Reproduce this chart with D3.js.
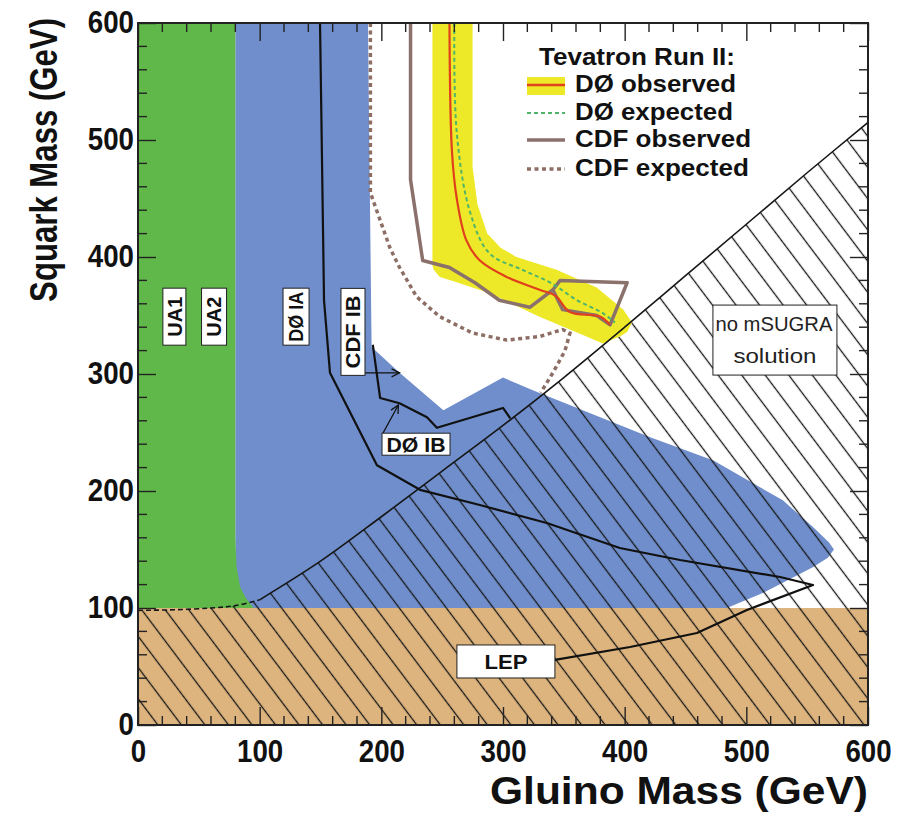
<!DOCTYPE html>
<html lang="en">
<head>
<meta charset="UTF-8">
<title>Squark vs gluino mass limits</title>
<script src="https://cdn.jsdelivr.net/npm/d3@7/dist/d3.min.js"></script>
<style>
    body { margin: 0; background: #fff; }
    text { font-family: "Liberation Sans", Arial, Helvetica, sans-serif; }
</style>
</head>
<body>
<script>

    var width = 903;
    var height = 823;

    // axis ticks
    var xTicks = [0, 100, 200, 300, 400, 500, 600];
    var yTicks = [0, 100, 200, 300, 400, 500, 600];

    // excluded regions, [gluino mass, squark mass] in GeV
    var uaRegion = [[0, 600], [80, 600], [80, 160], [81, 135], [84, 118], [89, 108], [95, 100], [0, 100]];
    var tevatronIRegion = [[80, 600], [189, 600], [192, 323], [215, 301], [251, 269], [300, 297], [325, 286],
        [421, 246], [473, 226], [530, 192], [555, 169], [568, 156], [572, 150], [567, 143], [555, 135],
        [514, 113], [484, 100], [80, 100]];
    var lepRegion = [[0, 0], [600, 0], [600, 100], [0, 100]];
    var noSugraEdge = [[0, 98], [30, 98.5], [60, 100], [80, 102], [100, 107], [150, 140], [200, 178],
        [250, 217], [300, 256], [350, 297], [400, 340], [450, 384], [500, 428], [550, 472], [600, 515]];

    // Run II contours
    var d0Band = [[242, 600], [275, 600], [275, 477], [279, 445], [287, 420], [298, 408], [311, 400],
        [344, 389], [377, 374], [399, 355], [406, 344], [402, 336], [396, 332], [382, 326], [371, 331],
        [330, 349], [289, 369], [260, 379], [248, 383], [243, 389], [242, 393]];
    var d0Observed = [[256, 600], [258, 491], [262, 450], [270, 414], [281, 397], [303, 383], [330, 372],
        [343, 367], [355, 353], [380, 349], [388, 342]];
    var d0Expected = [[260, 600], [262, 506], [273, 438], [289, 403], [316, 389], [339, 378], [361, 363],
        [382, 352], [392, 344]];
    var cdfObserved = [[224, 600], [224, 466], [234, 397], [256, 391], [277, 378], [297, 363], [322, 357],
        [341, 372], [349, 355], [377, 350], [388, 342], [402, 378], [347, 380], [341, 372]];
    var cdfExpected = [[191, 600], [191, 455], [207, 408], [215, 391], [229, 366], [248, 349], [275, 335],
        [303, 329], [330, 332], [349, 338], [355, 335], [351, 320], [341, 301], [331, 284]];

    // Run I contours
    var d0IALep = [[149.6, 600], [152.9, 363], [157.8, 301], [196.4, 222], [231.8, 201], [281, 188],
        [336, 172.6], [396, 151.3], [445.5, 141], [527.7, 126.5], [554.8, 119.7], [500.5, 98.3],
        [459.4, 78.6], [404.4, 66.7], [342.7, 55.6]];
    var d0IB = [[193, 325], [199, 279.5], [215, 275], [237.5, 263], [245.7, 254], [300, 271], [304, 265], [306, 262]];
    var cdfIBArrow = [[186.6, 301], [215, 301]];
    var d0IBArrow = [[201.4, 249.6], [214, 273.5]];

    var legendNames = ['DØ observed', 'DØ expected', 'CDF observed', 'CDF expected'];

    var svg = d3.select('body')
        .append('svg')
        .attr('width', width)
        .attr('height', height);

    var x = d3.scaleLinear().domain([0, 600]).range([138, 868]);
    var y = d3.scaleLinear().domain([0, 600]).range([725, 23]);

    var line = d3.line()
        .x(function (d) { return x(d[0]); })
        .y(function (d) { return y(d[1]); });
    var smooth = d3.line()
        .x(function (d) { return x(d[0]); })
        .y(function (d) { return y(d[1]); })
        .curve(d3.curveCatmullRom);

    var defs = svg.append('defs');
    defs.append('clipPath').attr('id', 'plot')
        .append('rect')
        .attr('x', x(0)).attr('y', y(600))
        .attr('width', x(600) - x(0)).attr('height', y(0) - y(600));

    var hatch = defs.append('pattern')
        .attr('id', 'hatch')
        .attr('patternUnits', 'userSpaceOnUse')
        .attr('width', 20).attr('height', 18.8)
        .attr('patternTransform', 'rotate(53)');
    hatch.append('line')
        .attr('x1', -1).attr('y1', 9.4).attr('x2', 21).attr('y2', 9.4)
        .attr('stroke', '#161616').attr('stroke-width', 1.3);

    defs.append('marker')
        .attr('id', 'arrow')
        .attr('viewBox', '0 0 10 10')
        .attr('refX', 9).attr('refY', 5)
        .attr('markerWidth', 10).attr('markerHeight', 10)
        .attr('markerUnits', 'userSpaceOnUse')
        .attr('orient', 'auto')
        .append('path')
        .attr('d', 'M1,1 L9,5 L1,9')
        .attr('fill', 'none').attr('stroke', '#111').attr('stroke-width', 1.3);

    var plot = svg.append('g').attr('clip-path', 'url(#plot)');

    // filled regions
    plot.append('path').attr('d', line(tevatronIRegion) + 'Z').attr('fill', '#6f8ecb');
    plot.append('path').attr('d', line(uaRegion) + 'Z').attr('fill', '#61b84a');
    plot.append('path').attr('d', line(lepRegion) + 'Z').attr('fill', '#ddb47e');
    plot.append('path')
        .attr('d', line([[0, 0]].concat(noSugraEdge, [[600, 0]])) + 'Z')
        .attr('fill', 'url(#hatch)');
    plot.append('path').attr('d', line(d0Band) + 'Z').attr('fill', '#ede928');

    // Run II contours
    plot.append('path').attr('d', line(cdfExpected))
        .attr('fill', 'none').attr('stroke', '#8d6e64').attr('stroke-width', 3.5)
        .attr('stroke-dasharray', '4,3.5');
    plot.append('path').attr('d', line(cdfObserved))
        .attr('fill', 'none').attr('stroke', '#8a716c').attr('stroke-width', 3.5)
        .attr('stroke-linejoin', 'round');
    plot.append('path').attr('d', smooth(d0Expected))
        .attr('fill', 'none').attr('stroke', '#4fb46a').attr('stroke-width', 2)
        .attr('stroke-dasharray', '4,3');
    plot.append('path').attr('d', smooth(d0Observed))
        .attr('fill', 'none').attr('stroke', '#e0401c').attr('stroke-width', 2.2);

    // boundary of the no-mSUGRA region
    plot.append('path').attr('d', smooth(noSugraEdge.slice(0, 5)))
        .attr('fill', 'none').attr('stroke', '#161616').attr('stroke-width', 1.6)
        .attr('stroke-dasharray', '5,3');
    plot.append('path').attr('d', smooth(noSugraEdge.slice(4)))
        .attr('fill', 'none').attr('stroke', '#161616').attr('stroke-width', 1.6);

    // Run I contours
    plot.append('path').attr('d', line(d0IALep))
        .attr('fill', 'none').attr('stroke', '#111').attr('stroke-width', 2.2)
        .attr('stroke-linejoin', 'round');
    plot.append('path').attr('d', line(d0IB))
        .attr('fill', 'none').attr('stroke', '#111').attr('stroke-width', 2.2)
        .attr('stroke-linejoin', 'round');
    [cdfIBArrow, d0IBArrow].forEach(function (a) {
        plot.append('path').attr('d', line(a))
            .attr('fill', 'none').attr('stroke', '#111').attr('stroke-width', 1.3)
            .attr('marker-end', 'url(#arrow)');
    });

    // boxed labels: [text, centre x, centre y (data), box w, box h, rotated, text length, size]
    var boxes = [
        ['UA1', 29.9, 349, 23, 57, true, 40, 20],
        ['UA2', 62.5, 349, 25, 57, true, 40, 20],
        ['DØ IA', 129.9, 349, 26, 57, true, 50, 20],
        ['CDF IB', 176.7, 336, 24, 87, true, 73, 20],
        ['DØ IB', 228.5, 240, 68, 22, false, 59, 21],
        ['LEP', 302.4, 54.3, 98, 33, false, 43, 21]
    ];
    boxes.forEach(function (b) {
        var cx = x(b[1]), cy = y(b[2]);
        svg.append('rect')
            .attr('x', cx - b[3] / 2).attr('y', cy - b[4] / 2)
            .attr('width', b[3]).attr('height', b[4])
            .attr('fill', '#fff').attr('stroke', '#222').attr('stroke-width', 1);
        svg.append('text')
            .attr('transform', 'translate(' + cx + ',' + cy + ')' + (b[5] ? ' rotate(-90)' : ''))
            .attr('text-anchor', 'middle')
            .attr('dy', '0.36em')
            .attr('font-size', b[7])
            .attr('font-weight', 'bold')
            .attr('textLength', b[6])
            .attr('lengthAdjust', 'spacingAndGlyphs')
            .attr('fill', '#111')
            .text(b[0]);
    });

    // no mSUGRA solution box
    var nsx = x(523.5), nsy = y(329);
    svg.append('rect')
        .attr('x', nsx - 62).attr('y', nsy - 35)
        .attr('width', 124).attr('height', 70)
        .attr('fill', '#fff').attr('stroke', '#222').attr('stroke-width', 1);
    svg.append('text')
        .attr('x', nsx - 1).attr('y', nsy - 9)
        .attr('text-anchor', 'middle')
        .attr('font-size', 21)
        .attr('textLength', 117).attr('lengthAdjust', 'spacingAndGlyphs')
        .attr('fill', '#222')
        .text('no mSUGRA');
    svg.append('text')
        .attr('x', nsx).attr('y', nsy + 23)
        .attr('text-anchor', 'middle')
        .attr('font-size', 21)
        .attr('textLength', 83).attr('lengthAdjust', 'spacingAndGlyphs')
        .attr('fill', '#222')
        .text('solution');

    // axes
    var frame = svg.append('g');
    var xAxis = d3.axisBottom(x).tickValues(xTicks).tickSize(-18).tickSizeOuter(0).tickPadding(15);
    var yAxis = d3.axisLeft(y).tickValues(yTicks).tickSize(-18).tickSizeOuter(0).tickPadding(4);
    var xTop = d3.axisTop(x).tickValues(xTicks).tickSize(-18).tickSizeOuter(0).tickFormat('');
    var yRight = d3.axisRight(y).tickValues(yTicks).tickSize(-18).tickSizeOuter(0).tickFormat('');

    frame.append('g').attr('class', 'axis').attr('transform', 'translate(0,' + y(0) + ')').call(xAxis);
    frame.append('g').attr('class', 'axis').attr('transform', 'translate(' + x(0) + ',0)').call(yAxis);
    frame.append('g').attr('class', 'axis').attr('transform', 'translate(0,' + y(600) + ')').call(xTop);
    frame.append('g').attr('class', 'axis').attr('transform', 'translate(' + x(600) + ',0)').call(yRight);

    frame.selectAll('.axis .domain').remove();
    frame.selectAll('.axis line').attr('stroke', '#222').attr('stroke-width', 1.4);
    frame.selectAll('.axis text')
        .attr('font-size', 31)
        .attr('font-weight', 'bold')
        .attr('fill', '#111')
        .attr('font-family', '"Liberation Sans", Arial, sans-serif')
        .attr('textLength', function (d) { return String(d).length * 15.4; })
        .attr('lengthAdjust', 'spacingAndGlyphs');

    var minor = d3.range(20, 600, 20).filter(function (v) { return v % 100 !== 0; });
    minor.forEach(function (v) {
        frame.append('line').attr('x1', x(v)).attr('x2', x(v)).attr('y1', y(0)).attr('y2', y(0) - 9);
        frame.append('line').attr('x1', x(v)).attr('x2', x(v)).attr('y1', y(600)).attr('y2', y(600) + 9);
        frame.append('line').attr('y1', y(v)).attr('y2', y(v)).attr('x1', x(0)).attr('x2', x(0) + 9);
        frame.append('line').attr('y1', y(v)).attr('y2', y(v)).attr('x1', x(600)).attr('x2', x(600) - 9);
    });
    frame.selectAll(':scope > line').attr('stroke', '#222').attr('stroke-width', 1.4);

    frame.append('rect')
        .attr('x', x(0)).attr('y', y(600))
        .attr('width', x(600) - x(0)).attr('height', y(0) - y(600))
        .attr('fill', 'none').attr('stroke', '#222').attr('stroke-width', 2);

    // axis titles
    svg.append('text')
        .attr('x', x(600)).attr('y', 804)
        .attr('text-anchor', 'end')
        .attr('font-size', 38).attr('font-weight', 'bold')
        .attr('textLength', 378).attr('lengthAdjust', 'spacingAndGlyphs')
        .attr('fill', '#111')
        .text('Gluino Mass (GeV)');
    // condensed like the original: squeeze along the text direction
    svg.append('text')
        .attr('transform', 'translate(57,18) rotate(-90) scale(0.82,1)')
        .attr('text-anchor', 'end')
        .attr('font-size', 38).attr('font-weight', 'bold')
        .attr('fill', '#111')
        .text('Squark Mass (GeV)');

    // legend
    var legend = svg.append('g');
    legend.append('text')
        .attr('x', 539).attr('y', 65)
        .attr('font-size', 24).attr('font-weight', 'bold')
        .attr('textLength', 196).attr('lengthAdjust', 'spacingAndGlyphs')
        .attr('fill', '#111')
        .text('Tevatron Run II:');

    var legendY = [85, 113, 140, 169];
    var legendBase = [92, 120, 147, 176];
    var legendLen = [161, 158, 176, 174];
    legend.append('rect').attr('x', 527).attr('y', 77).attr('width', 38).attr('height', 18).attr('fill', '#ede928');
    var legendStyles = [
        { stroke: '#e0401c', w: 2.5, dash: null },
        { stroke: '#4fb46a', w: 2, dash: '4,3' },
        { stroke: '#8a716c', w: 3.5, dash: null },
        { stroke: '#8d6e64', w: 3.5, dash: '4,3.5' }
    ];
    legendNames.forEach(function (name, i) {
        legend.append('line')
            .attr('x1', 527).attr('x2', 565)
            .attr('y1', legendY[i]).attr('y2', legendY[i])
            .attr('stroke', legendStyles[i].stroke)
            .attr('stroke-width', legendStyles[i].w)
            .attr('stroke-dasharray', legendStyles[i].dash);
        legend.append('text')
            .attr('x', 575).attr('y', legendBase[i])
            .attr('font-size', 24).attr('font-weight', 'bold')
            .attr('textLength', legendLen[i]).attr('lengthAdjust', 'spacingAndGlyphs')
            .attr('fill', '#111')
            .text(name);
    });

</script>
</body>
</html>
